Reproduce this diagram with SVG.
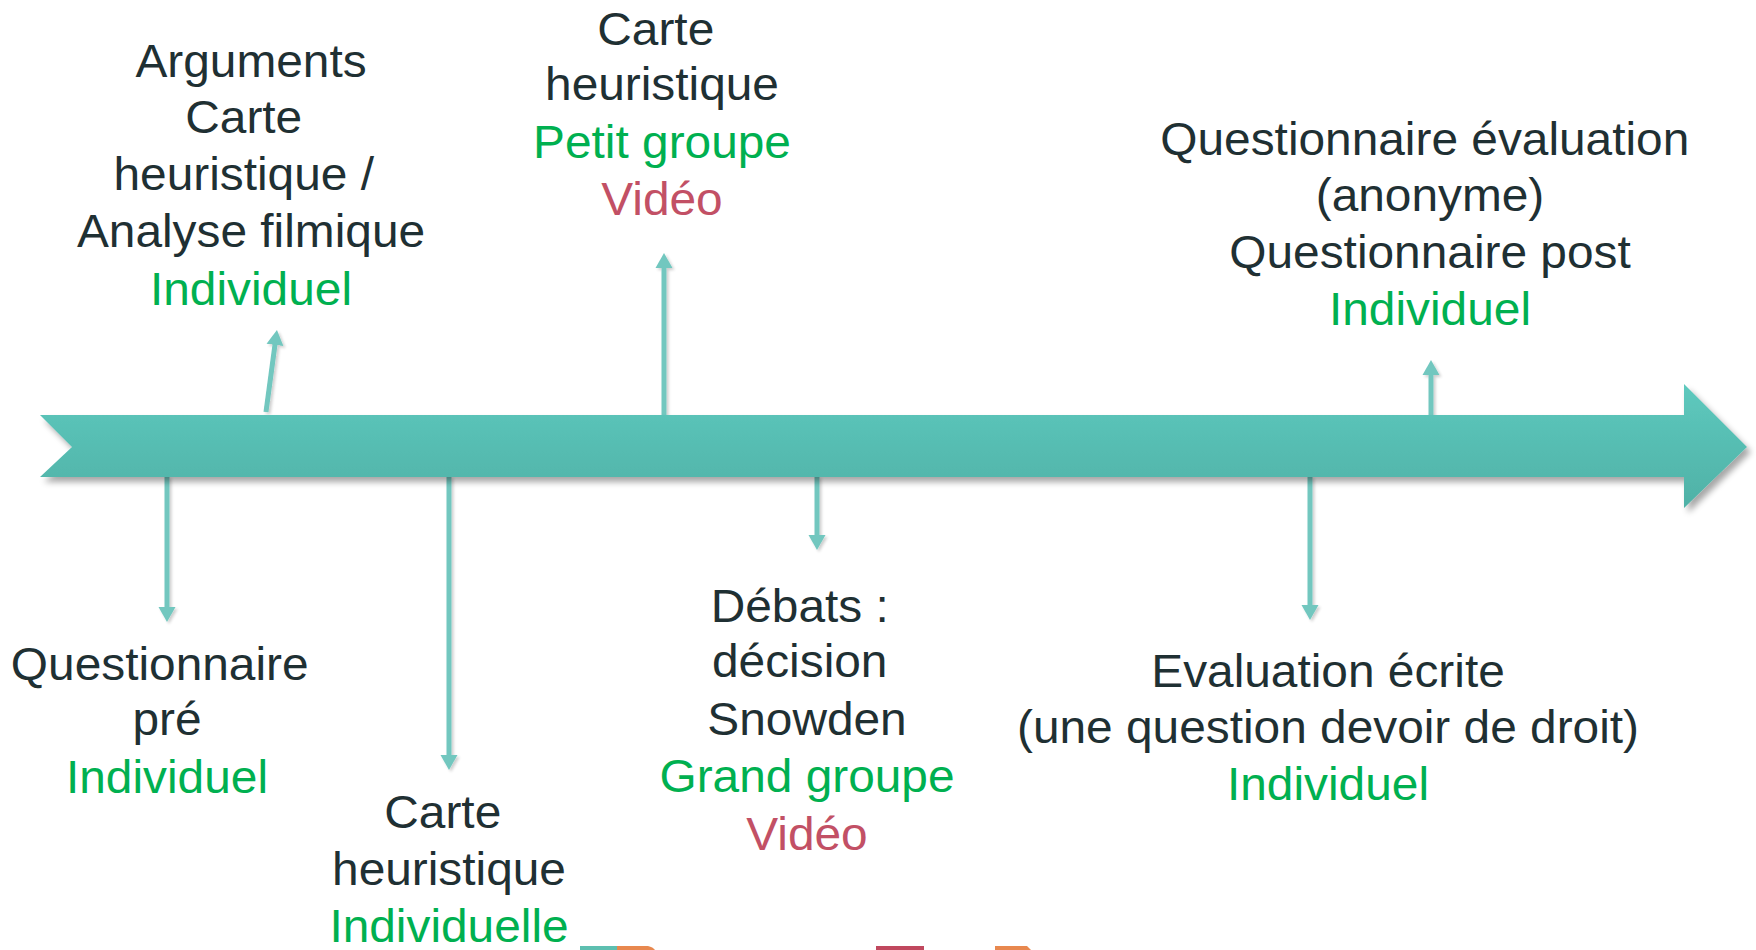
<svg xmlns="http://www.w3.org/2000/svg" width="1756" height="950" viewBox="0 0 1756 950">
<defs>
<style>
text{font-family:"Liberation Sans",Arial,sans-serif;font-size:46px;text-anchor:middle;fill:#1f3033}
.g{fill:#00b050}
.r{fill:#c25065}
.conn{stroke:#72c7bf;stroke-width:5;fill:none;marker-end:url(#ah)}
</style>
<linearGradient id="bandGrad" x1="0" y1="0" x2="0" y2="1">
<stop offset="0" stop-color="#5ec9be"/>
<stop offset="1" stop-color="#4fb1a6"/>
</linearGradient>
<filter id="sh" x="-5%" y="-30%" width="110%" height="170%">
<feGaussianBlur in="SourceAlpha" stdDeviation="3"/>
<feOffset dx="4" dy="5" result="b"/>
<feComponentTransfer><feFuncA type="linear" slope="0.35"/></feComponentTransfer>
<feMerge><feMergeNode/><feMergeNode in="SourceGraphic"/></feMerge>
</filter>
<filter id="lsh" x="-50%" y="-10%" width="200%" height="120%">
<feGaussianBlur in="SourceAlpha" stdDeviation="1.5"/>
<feOffset dx="2" dy="2" result="b"/>
<feComponentTransfer><feFuncA type="linear" slope="0.2"/></feComponentTransfer>
<feMerge><feMergeNode/><feMergeNode in="SourceGraphic"/></feMerge>
</filter>
<marker id="ah" markerUnits="userSpaceOnUse" markerWidth="16" markerHeight="18" refX="1" refY="8.5" orient="auto" viewBox="0 0 16 17">
<path d="M0,0 L15,8.5 L0,17 z" fill="#72c7bf"/>
</marker>
</defs>
<rect width="1756" height="950" fill="#ffffff"/>

<g id="connectors" filter="url(#lsh)">
<line class="conn" x1="266" y1="412" x2="275.1" y2="343.9"/>
<line class="conn" x1="664" y1="416" x2="664" y2="267"/>
<line class="conn" x1="1431" y1="416" x2="1431" y2="374"/>
<line class="conn" x1="167" y1="476" x2="167" y2="608"/>
<line class="conn" x1="449" y1="476" x2="449" y2="756"/>
<line class="conn" x1="817" y1="476" x2="817" y2="536"/>
<line class="conn" x1="1310" y1="476" x2="1310" y2="606"/>
</g>

<g id="timeline">
<polygon points="40,415 1684,415 1684,384 1747,447 1684,508 1684,477 40,477 72,447" fill="url(#bandGrad)" filter="url(#sh)"/>
</g>

<g id="node-arguments" transform="translate(251,0) scale(1.04,1)">
<text x="0" y="77">Arguments</text>
<text x="-7" y="133">Carte</text>
<text x="-7" y="190">heuristique /</text>
<text x="0" y="247">Analyse filmique</text>
<text x="0" y="305" class="g">Individuel</text>
</g>

<g id="node-carte-petit" transform="translate(662,0) scale(1.04,1)">
<text x="-6" y="45">Carte</text>
<text x="0" y="100">heuristique</text>
<text x="0" y="158" class="g">Petit groupe</text>
<text x="0" y="215" class="r">Vidéo</text>
</g>

<g id="node-questionnaire-post" transform="translate(1430,0) scale(1.04,1)">
<text x="-5" y="155">Questionnaire évaluation</text>
<text x="0" y="211">(anonyme)</text>
<text x="0" y="268">Questionnaire post</text>
<text x="0" y="325" class="g">Individuel</text>
</g>

<g id="node-questionnaire-pre" transform="translate(167,0) scale(1.04,1)">
<text x="-7" y="680">Questionnaire</text>
<text x="0" y="735">pré</text>
<text x="0" y="793" class="g">Individuel</text>
</g>

<g id="node-carte-indiv" transform="translate(449,0) scale(1.04,1)">
<text x="-6" y="828">Carte</text>
<text x="0" y="885">heuristique</text>
<text x="0" y="942" class="g">Individuelle</text>
</g>

<g id="node-debats" transform="translate(807,0) scale(1.04,1)">
<text x="-7" y="622">Débats :</text>
<text x="-7" y="677">décision</text>
<text x="0" y="735">Snowden</text>
<text x="0" y="792" class="g">Grand groupe</text>
<text x="0" y="850" class="r">Vidéo</text>
</g>

<g id="node-evaluation" transform="translate(1328,0) scale(1.04,1)">
<text x="0" y="687">Evaluation écrite</text>
<text x="0" y="743">(une question devoir de droit)</text>
<text x="0" y="800" class="g">Individuel</text>
</g>

<g id="bottom-shapes">
<rect x="580" y="946" width="37" height="4" fill="#5dbfb0"/>
<path d="M617,946 L648,946 Q653,947 655,950 L617,950 z" fill="#e8884f"/>
<rect x="876" y="946" width="48" height="4" fill="#c0485e"/>
<path d="M995,946 L1027,946 L1031,950 L995,950 z" fill="#e8884f"/>
</g>
</svg>
